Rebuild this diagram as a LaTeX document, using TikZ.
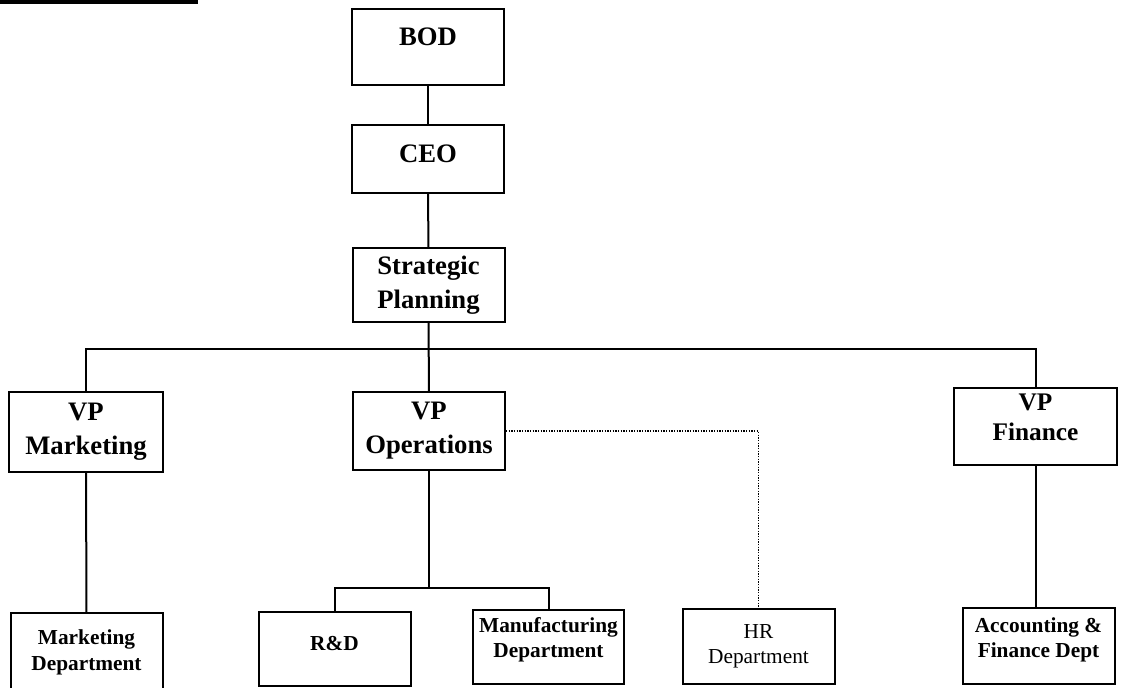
\documentclass[tikz,border=0pt]{standalone}
\usepackage{fontspec}
\setmainfont{Liberation Serif}
\newcommand{\boxpad}[1]{\rule[-#1]{0pt}{#1}}

\begin{document}
\begin{tikzpicture}[x=0.75pt,y=-0.75pt,line width=1.5pt,
  unit/.style={draw,rectangle,align=center,inner sep=2pt,minimum width=114pt},
  exec/.style={unit,font=\fontsize{20}{25.5}\selectfont\bfseries},
  dept/.style={unit,font=\fontsize{16}{19}\selectfont\bfseries}]
\useasboundingbox (0,0) rectangle (1122,687);
\draw[line width=2.4pt] (0,2) -- (198,2);
\node[exec,minimum height=57pt] (BOD)at(428,47){BOD\boxpad{15pt}};
\node[exec,minimum height=51pt] (CEO)at(428,159){CEO\boxpad{7.5pt}};
\node[exec,minimum height=55.5pt] (SP)at(428.5,285){Strategic\\Planning};
\node[exec,minimum width=115.5pt,minimum height=60pt] (VPM)at(86,432){VP\\Marketing};
\node[exec,minimum height=58.5pt] (VPO)at(429,431){VP\\Operations};
\node[exec,font=\fontsize{19}{22.5}\selectfont\bfseries,minimum width=122pt,minimum height=58pt] (VPF)at(1035.5,426.5){VP\\Finance\boxpad{14pt}};
\node[dept,minimum height=59pt] (MD)at(86.5,652.5){Marketing\\Department};
\node[dept,minimum height=55.5pt] (RD)at(334.5,649){R\&D\boxpad{9pt}};
\node[dept,minimum width=113pt,minimum height=55.5pt] (MF)at(548.5,647){Manufacturing\\Department\boxpad{14pt}};
\node[dept,font=\fontsize{16}{19}\selectfont,minimum height=56pt] (HR)at(758.5,646.5){HR\\Department};
\node[dept,minimum height=57pt] (AF)at(1038.5,646){Accounting \&\\Finance Dept\boxpad{12.5pt}};
% bus and fork points
\coordinate (bus)at(429,349);
\coordinate (fork)at(429,588);
\draw (BOD)--(CEO);
\draw (CEO)--(SP);
\draw (SP)--(VPO);
\draw (VPM.north)|-(bus)-|(VPF.north);
\draw (VPM)--(MD);
\draw (VPF.south)--(VPF.south|-AF.north);
\draw (VPO)--(fork);
\draw (RD.north)|-(fork)-|(MF.north);
\draw[densely dotted,line width=1pt] (VPO.east)-|(HR.north);
\end{tikzpicture}
\end{document}
